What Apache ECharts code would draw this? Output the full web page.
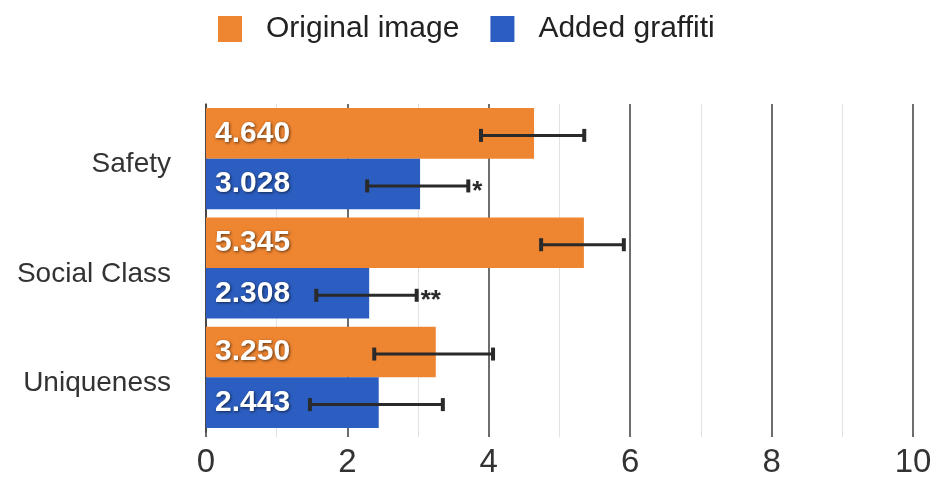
<!DOCTYPE html>
<html>
<head>
<meta charset="utf-8">
<script src="https://cdn.jsdelivr.net/npm/echarts@6/dist/echarts.min.js"></script>
<style>
  html, body { margin: 0; padding: 0; background: #fff; }
  #chart { width: 936px; height: 479px; }
</style>
</head>
<body>
<div id="chart"></div>
<script>
var categories = ['Safety', 'Social Class', 'Uniqueness'];
var seriesNames = ['Original image', 'Added graffiti'];
var originalVals = [4.640, 5.345, 3.250];
var graffitiVals = [3.028, 2.308, 2.443];
// error bar ends
var originalLow = [3.89, 4.74, 2.38];
var originalHigh = [5.35, 5.91, 4.06];
var graffitiLow = [2.28, 1.56, 1.47];
var graffitiHigh = [3.71, 2.98, 3.35];
var graffitiStars = ['*', '**', ''];
var xTicks = [0, 2, 4, 6, 8, 10];

var ORANGE = '#EE8531';
var BLUE = '#2C5EC1';
var GAP = 0.075;

var chart = echarts.init(document.getElementById('chart'));

function errData(low, high, stars) {
    return low.map(function (v, i) {
        return [i, v, high[i], stars ? stars[i] : ''];
    });
}

// pos: -0.5 = upper bar of the pair, +0.5 = lower bar
function errRender(pos) {
    return function (params, api) {
        var cat = api.value(0);
        var a = api.coord([api.value(1), cat]);
        var b = api.coord([api.value(2), cat]);
        var band = api.size([0, 1])[1];
        var bw = band * (1 - GAP) / 2;
        var y = a[1] + pos * bw + 2;
        var style = { fill: '#2a2a2a' };
        var kids = [
            { type: 'rect', shape: { x: a[0], y: y - 1.5, width: b[0] - a[0], height: 3 }, style: style },
            { type: 'rect', shape: { x: a[0] - 2, y: y - 6.5, width: 4, height: 13 }, style: style },
            { type: 'rect', shape: { x: b[0] - 2, y: y - 6.5, width: 4, height: 13 }, style: style }
        ];
        var star = api.value(3);
        if (star) {
            kids.push({
                type: 'text',
                style: {
                    x: b[0] + 4, y: y + 6, text: star,
                    font: 'bold 26px "Liberation Sans", sans-serif',
                    fill: '#2a2a2a', align: 'left', verticalAlign: 'middle'
                }
            });
        }
        return { type: 'group', children: kids };
    };
}

var barLabel = {
    show: true,
    position: 'insideLeft',
    distance: 9,
    color: '#fff',
    fontSize: 30,
    fontWeight: 'bold',
    fontFamily: '"Liberation Sans", sans-serif',
    textShadowColor: 'rgba(0,0,0,0.6)',
    textShadowBlur: 3,
    textShadowOffsetX: 1,
    textShadowOffsetY: 1,
    formatter: function (p) { return p.value.toFixed(3); }
};

var option = {
    animation: false,
    backgroundColor: '#fff',
    legend: {
        data: seriesNames,
        left: 213,
        top: 9,
        icon: 'rect',
        itemWidth: 24,
        itemHeight: 26,
        itemGap: 31,
        textStyle: {
            fontSize: 30,
            color: '#222',
            fontFamily: '"Liberation Sans", sans-serif',
            padding: [0, 0, 0, 19]
        }
    },
    grid: { left: 206, right: 23, top: 104, bottom: 38, containLabel: false },
    xAxis: {
        type: 'value',
        min: 0,
        max: 10,
        interval: 2,
        axisLine: { show: false },
        axisTick: { show: true, length: 5, lineStyle: { color: '#3c3c3c', width: 1.5 } },
        minorTick: { show: true, splitNumber: 2, length: 5, lineStyle: { color: '#e2e2e2', width: 1 } },
        minorSplitLine: { show: true, lineStyle: { color: '#e2e2e2', width: 1 } },
        splitLine: { show: true, lineStyle: { color: '#3c3c3c', width: 1.5 } },
        axisLabel: {
            margin: 14,
            fontSize: 33,
            color: '#333',
            fontFamily: '"Liberation Sans Narrow", "Liberation Sans", sans-serif',
            formatter: function (v) { return xTicks.indexOf(v) >= 0 ? String(v) : ''; }
        }
    },
    yAxis: {
        type: 'category',
        data: categories,
        inverse: true,
        axisLine: { show: true, lineStyle: { color: '#3c3c3c', width: 1.5 } },
        axisTick: { show: false },
        splitLine: { show: false },
        axisLabel: {
            margin: 35,
            fontSize: 28,
            color: '#333',
            verticalAlign: 'top',
            lineHeight: 12,
            fontFamily: '"Liberation Sans", sans-serif'
        }
    },
    series: [
        {
            name: seriesNames[0],
            type: 'bar',
            data: originalVals,
            itemStyle: { color: ORANGE },
            barGap: '0%',
            barCategoryGap: (GAP * 100) + '%',
            label: barLabel,
            z: 2
        },
        {
            name: seriesNames[1],
            type: 'bar',
            data: graffitiVals,
            itemStyle: { color: BLUE },
            barGap: '0%',
            barCategoryGap: (GAP * 100) + '%',
            label: barLabel,
            z: 2
        },
        {
            type: 'custom',
            name: 'err-original',
            renderItem: errRender(-0.5),
            data: errData(originalLow, originalHigh),
            encode: { x: [1, 2], y: 0 },
            z: 5
        },
        {
            type: 'custom',
            name: 'err-graffiti',
            renderItem: errRender(0.5),
            data: errData(graffitiLow, graffitiHigh, graffitiStars),
            encode: { x: [1, 2], y: 0 },
            z: 5
        }
    ]
};

chart.setOption(option);
</script>
</body>
</html>
